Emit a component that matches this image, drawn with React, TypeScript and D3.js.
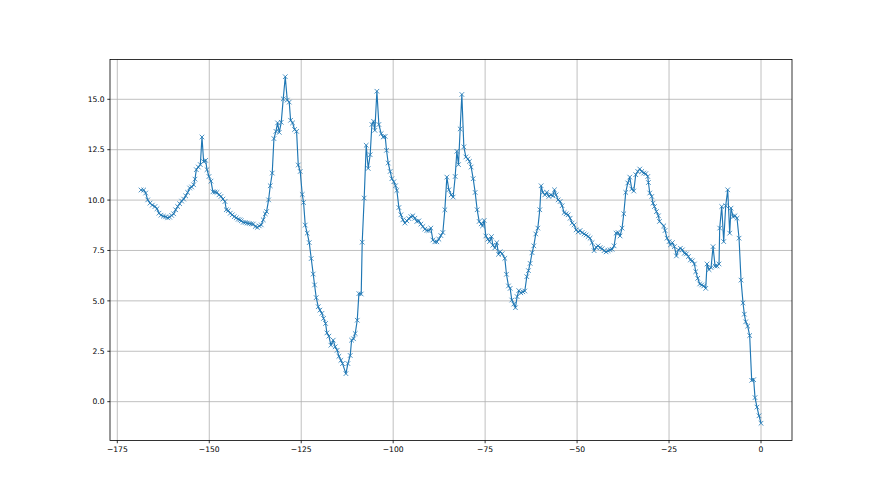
import { useRef, useEffect } from "react";
import * as d3 from "d3";

const xValues = [
  -168.56, -167.83, -167.29, -166.74, -166.11, -165.48, -164.76, -164.21, -163.67, -163.13,
  -162.49, -161.86, -161.31, -160.77, -160.23, -159.68, -159.14, -158.59, -158.05, -157.51,
  -156.96, -156.42, -155.88, -155.33, -154.79, -154.25, -153.88, -153.52, -152.98, -152.43,
  -151.98, -151.53, -150.98, -150.62, -150.08, -149.54, -149.0, -148.45, -147.91, -147.36,
  -146.82, -146.28, -145.73, -145.37, -144.83, -144.29, -143.74, -143.2, -142.66, -142.12,
  -141.66,
  -141.3, -140.75, -140.21, -139.67, -139.12, -138.58, -138.04, -137.49, -136.95, -136.41,
  -135.86, -135.32, -134.78, -134.42, -133.87, -133.42, -132.88, -132.42, -131.88, -131.43,
  -130.97, -130.43, -129.89, -129.34, -128.8, -128.26, -127.89, -127.35, -126.81, -126.26,
  -125.81, -125.27, -124.72, -124.36, -123.91, -123.37, -122.82, -122.28, -121.74, -121.37,
  -120.92, -120.38, -119.92, -119.38, -118.93, -118.38, -118.02, -117.48, -116.93, -116.3,
  -115.76, -115.22, -114.76, -114.22, -113.77,
  -112.85, -112.31, -111.68, -111.31, -110.77, -110.32, -109.77, -109.32, -108.69, -108.42,
  -107.88, -107.33, -106.79, -106.25, -105.79, -105.34, -104.98, -104.43, -103.89, -103.26,
  -102.72, -102.17, -101.81, -101.36, -100.82, -100.36, -99.82, -99.37, -99.0, -98.45,
  -97.91, -97.37, -96.82, -96.28, -95.73, -95.19, -94.65, -94.1, -93.56, -93.02,
  -92.47, -91.93, -91.39, -90.84, -90.3, -89.76, -89.21, -88.67, -88.13, -87.58,
  -87.04, -86.5, -85.95, -85.41, -84.86,
  -84.23, -83.69, -83.14, -82.69, -82.24, -81.79, -81.33, -80.79, -80.24, -79.7,
  -79.25, -78.8, -78.25, -77.71, -77.17, -76.62, -76.08, -75.72, -75.26, -74.81,
  -74.27, -73.82, -73.27, -72.91, -72.37, -71.83, -71.37, -70.92, -70.38, -69.65,
  -69.2, -68.66, -68.2, -67.75, -67.21, -66.76, -66.3, -65.85, -65.3, -64.76,
  -64.22, -63.67, -63.22, -62.77, -62.23, -61.77, -61.23, -60.68, -60.14, -59.78,
  -59.32, -58.78, -58.24, -57.69, -57.15, -56.61, -56.15,
  -55.7, -55.15, -54.61, -54.07, -53.52, -52.98, -52.44, -51.89, -51.35, -50.81,
  -50.26, -49.72, -49.18, -48.63, -48.09, -47.55, -47.0, -46.46, -45.92, -45.37,
  -44.83, -44.29, -43.74, -43.2, -42.66, -42.11, -41.57, -41.03, -40.48, -39.94,
  -39.4, -38.85, -38.31, -37.77, -37.31, -36.77, -36.22, -35.68, -35.14, -34.59,
  -34.05, -33.51, -32.96, -32.42, -31.88, -31.33, -30.79, -30.61, -30.24, -29.7,
  -29.34, -28.97, -28.43, -27.89, -27.61,
  -26.44, -26.08, -25.54, -24.99, -24.63, -24.09, -23.54, -23.0, -22.46, -21.91,
  -21.37, -20.83, -20.28, -19.74, -19.2, -18.65, -18.11, -17.74, -17.2, -16.66,
  -16.11, -15.57, -15.03, -14.67, -14.12, -13.58, -13.04, -12.49, -11.95, -11.41,
  -11.23, -10.68, -10.14, -9.59, -9.05, -8.51, -8.15, -7.6, -7.06, -6.52,
  -5.97, -5.43, -4.89, -4.53, -4.16, -3.62, -3.08, -2.53, -1.99, -1.63,
  -1.09, -0.54, 0,
];

const yValues = [
  10.5, 10.5, 10.35, 10.01, 9.85, 9.75, 9.68, 9.57, 9.35, 9.25,
  9.2, 9.17, 9.12, 9.15, 9.24, 9.32, 9.52, 9.68, 9.82, 9.95,
  10.05, 10.21, 10.38, 10.6, 10.65, 10.76, 11.04, 11.51, 11.64, 11.76,
  13.13, 11.91, 11.97, 11.51, 11.17, 10.94, 10.41, 10.4, 10.38, 10.26,
  10.18, 10.05, 9.93, 9.52, 9.48, 9.35, 9.27, 9.18, 9.12, 9.05,
  9.02,
  8.97, 8.9, 8.89, 8.86, 8.84, 8.82, 8.81, 8.69, 8.64, 8.72,
  8.77, 9.02, 9.32, 9.43, 10.01, 10.71, 11.34, 13.05, 13.41, 13.83,
  13.36, 13.86, 15.02, 16.12, 14.96, 14.86, 13.96, 13.83, 13.5, 13.41,
  11.74, 11.42, 10.28, 9.88, 8.76, 8.36, 7.89, 7.1, 6.33, 5.79,
  5.16, 4.71, 4.54, 4.38, 4.13, 3.88, 3.41, 3.25, 2.8, 3.05,
  2.72, 2.55, 2.25, 2.05, 1.89,
  1.39, 1.89, 2.29, 3.05, 3.12, 3.38, 4.04, 5.36, 5.34, 7.91,
  10.1, 12.72, 11.57, 12.25, 13.75, 13.91, 13.46, 15.4, 13.75, 13.3,
  13.13, 13.16, 12.47, 11.84, 11.42, 11.06, 10.91, 10.71, 10.48, 9.63,
  9.27, 9.02, 8.86, 8.97, 9.08, 9.18, 9.22, 9.1, 8.94, 8.97,
  8.81, 8.69, 8.56, 8.49, 8.49, 8.61, 8.02, 7.93, 7.93, 8.06,
  8.24, 8.39, 9.52, 11.14, 10.51,
  10.26, 10.15, 11.17, 12.42, 11.76, 13.53, 15.24, 12.64, 12.14, 12.04,
  11.92, 11.64, 11.06, 10.38, 9.52, 8.94, 8.82, 8.72, 8.99, 8.22,
  8.06, 7.94, 8.19, 7.76, 7.63, 7.89, 7.31, 7.44, 7.34, 7.11,
  6.32, 5.74, 5.62, 5.04, 4.84, 4.66, 5.21, 5.51, 5.4, 5.45,
  5.49, 6.2, 6.5, 6.86, 7.39, 7.73, 8.32, 8.61, 9.52, 10.71,
  10.38, 10.26, 10.38, 10.18, 10.26, 10.21, 10.51,
  10.26, 10.01, 9.93, 9.72, 9.38, 9.32, 9.27, 9.1, 8.86, 8.77,
  8.52, 8.42, 8.49, 8.39, 8.32, 8.27, 8.19, 8.11, 7.89, 7.49,
  7.66, 7.73, 7.64, 7.59, 7.49, 7.43, 7.49, 7.53, 7.56, 7.73,
  8.36, 8.39, 8.22, 8.61, 9.32, 10.38, 10.85, 11.14, 10.55, 10.45,
  11.26, 11.42, 11.54, 11.42, 11.34, 11.31, 11.17, 10.87, 10.35, 10.18,
  9.85, 9.68, 9.43, 9.22, 8.94,
  8.72, 8.49, 8.11, 7.94, 7.78, 7.89, 7.69, 7.23, 7.53, 7.61,
  7.53, 7.36, 7.33, 7.2, 7.03, 6.99, 6.83, 6.45, 6.12, 5.84,
  5.79, 5.74, 5.62, 6.83, 6.55, 6.65, 7.69, 6.73, 6.73, 6.83,
  8.61, 9.68, 7.94, 9.72, 10.51, 8.36, 9.6, 9.18, 9.22, 9.1,
  8.11, 6.03, 4.9, 4.34, 3.96, 3.75, 3.28, 1.06, 1.09, 0.2,
  -0.27, -0.7, -1.07,
];

const xTicks = [-175, -150, -125, -100, -75, -50, -25, 0];
const yTicks = [0, 2.5, 5, 7.5, 10, 12.5, 15];

const W = 880;
const H = 495;

export default function App() {
  const svgRef = useRef<SVGSVGElement>(null);

  useEffect(() => {
    if (!svgRef.current) return;
    const svg = d3.select(svgRef.current);
    svg.selectAll("*").remove();

    // matplotlib default subplot box
    const left = 0.125 * W;
    const right = 0.9 * W;
    const top = 0.12 * H;
    const bottom = 0.89 * H;

    const n = Math.min(xValues.length, yValues.length);
    const pts = d3.range(n).map((i) => [xValues[i], yValues[i]] as [number, number]);

    const [x0, x1] = d3.extent(xValues) as [number, number];
    const [y0, y1] = d3.extent(yValues) as [number, number];
    const mx = (x1 - x0) * 0.05;
    const my = (y1 - y0) * 0.05;

    const x = d3.scaleLinear().domain([x0 - mx, x1 + mx]).range([left, right]);
    const y = d3.scaleLinear().domain([y0 - my, y1 + my]).range([bottom, top]);

    const fmtY = (v: number) => v.toFixed(1).replace("-", "\u2212");
    const fmtX = (v: number) => String(v).replace("-", "\u2212");

    // grid
    const grid = svg.append("g");
    xTicks.forEach((t) => {
      grid
        .append("line")
        .attr("x1", x(t))
        .attr("x2", x(t))
        .attr("y1", top)
        .attr("y2", bottom)
        .attr("stroke", "#b0b0b0")
        .attr("stroke-width", 0.8);
    });
    yTicks.forEach((t) => {
      grid
        .append("line")
        .attr("x1", left)
        .attr("x2", right)
        .attr("y1", y(t))
        .attr("y2", y(t))
        .attr("stroke", "#b0b0b0")
        .attr("stroke-width", 0.8);
    });

    // series line
    const line = d3
      .line<[number, number]>()
      .x((d) => x(d[0]))
      .y((d) => y(d[1]));

    svg
      .append("path")
      .attr("d", line(pts)!)
      .attr("fill", "none")
      .attr("stroke", "#1f77b4")
      .attr("stroke-width", 1.15)
      .attr("stroke-linejoin", "round");

    // 'x' markers
    const r = 2.3;
    svg
      .append("g")
      .selectAll("path")
      .data(pts)
      .join("path")
      .attr("transform", (d) => `translate(${x(d[0])},${y(d[1])})`)
      .attr("d", `M${-r},${-r}L${r},${r}M${-r},${r}L${r},${-r}`)
      .attr("stroke", "#1f77b4")
      .attr("stroke-width", 0.8)
      .attr("fill", "none");

    // spines
    svg
      .append("rect")
      .attr("x", left)
      .attr("y", top)
      .attr("width", right - left)
      .attr("height", bottom - top)
      .attr("fill", "none")
      .attr("stroke", "#000")
      .attr("stroke-width", 0.8);

    // ticks + labels
    const tickLen = 2.7;
    const font = "'DejaVu Sans', sans-serif";
    xTicks.forEach((t) => {
      svg
        .append("line")
        .attr("x1", x(t))
        .attr("x2", x(t))
        .attr("y1", bottom)
        .attr("y2", bottom + tickLen)
        .attr("stroke", "#000")
        .attr("stroke-width", 0.8);
      svg
        .append("text")
        .attr("x", x(t))
        .attr("y", bottom + tickLen + 2.7)
        .attr("dy", "0.8em")
        .attr("text-anchor", "middle")
        .attr("font-family", font)
        .attr("font-size", 7.6)
        .attr("fill", "#000")
        .text(fmtX(t));
    });
    yTicks.forEach((t) => {
      svg
        .append("line")
        .attr("x1", left - tickLen)
        .attr("x2", left)
        .attr("y1", y(t))
        .attr("y2", y(t))
        .attr("stroke", "#000")
        .attr("stroke-width", 0.8);
      svg
        .append("text")
        .attr("x", left - tickLen - 2.7)
        .attr("y", y(t))
        .attr("dy", "0.35em")
        .attr("text-anchor", "end")
        .attr("font-family", font)
        .attr("font-size", 7.6)
        .attr("fill", "#000")
        .text(fmtY(t));
    });
  }, []);

  return (
    <svg
      ref={svgRef}
      width={W}
      height={H}
      style={{ position: "fixed", left: 0, top: 0, background: "#fff" }}
    />
  );
}
